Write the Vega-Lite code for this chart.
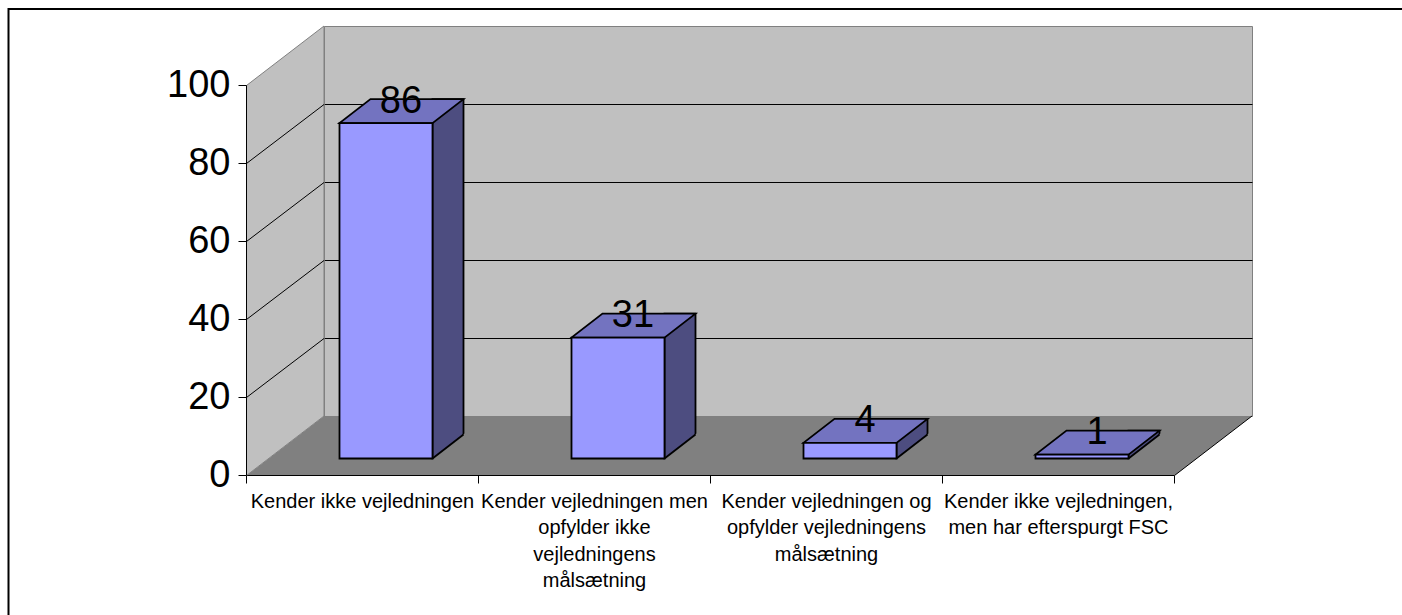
{
  "$schema": "https://vega.github.io/schema/vega-lite/v6.json",
  "width": 928,
  "height": 390,
  "autosize": {"type": "none"},
  "padding": {"left": 324, "top": 26, "right": 150, "bottom": 199},
  "background": "white",
  "view": {"fill": "#C0C0C0", "stroke": "#808080", "strokeWidth": 1},
  "config": {"font": "Liberation Sans", "axis": {"labelFont": "Liberation Sans"}},
  "data": {
    "values": [
      {"kategori": "Kender ikke vejledningen", "antal": 86},
      {"kategori": "Kender vejledningen men opfylder ikke vejledningens målsætning", "antal": 31},
      {"kategori": "Kender vejledningen og opfylder vejledningens målsætning", "antal": 4},
      {"kategori": "Kender ikke vejledningen, men har efterspurgt FSC", "antal": 1}
    ]
  },
  "layer": [
    {
      "layer": [
        {
          "data": {"values": [{}]},
          "mark": {"type": "point", "shape": "M -193.5,59.5 L 734.5,59.5 L 812,0 L -116,0 Z", "size": 4, "filled": true, "fill": "#808080", "strokeWidth": 0, "opacity": 1},
          "encoding": {
            "x": {
              "datum": "Kender ikke vejledningen", "type": "nominal",
              "scale": {"type": "band", "domain": ["Kender ikke vejledningen", "Kender vejledningen men opfylder ikke vejledningens målsætning", "Kender vejledningen og opfylder vejledningens målsætning", "Kender ikke vejledningen, men har efterspurgt FSC"], "paddingInner": 0, "paddingOuter": 0},
              "axis": {
                "orient": "bottom", "offset": 137, "translate": -77.5, "domain": false, "title": null, "labelAngle": 0,
                "tickBand": "extent", "tickSize": 8, "tickColor": "black", "tickWidth": 1,
                "labelFontSize": 20, "labelColor": "black", "labelPadding": 8, "labelLimit": 0, "labelLineHeight": 26.5, "labelBaseline": "top",
                "labelExpr": "datum.value == 'Kender vejledningen men opfylder ikke vejledningens målsætning' ? ['Kender vejledningen men', 'opfylder ikke', 'vejledningens', 'målsætning'] : datum.value == 'Kender vejledningen og opfylder vejledningens målsætning' ? ['Kender vejledningen og', 'opfylder vejledningens', 'målsætning'] : datum.value == 'Kender ikke vejledningen, men har efterspurgt FSC' ? ['Kender ikke vejledningen,', 'men har efterspurgt FSC'] : datum.label"
              }
            },
            "y": {
              "datum": 0, "type": "quantitative",
              "scale": {"domain": [0, 100], "nice": false},
              "axis": {"orient": "right", "values": [20, 40, 60, 80], "grid": true, "gridColor": "black", "gridOpacity": 1, "gridWidth": 1, "labels": false, "ticks": false, "domain": false, "title": null}
            }
          }
        },
        {
          "data": {"values": [{}]},
          "mark": {"type": "point", "shape": "M -193.5,59.5 L 734.5,59.5 L 812,0", "size": 4, "filled": false, "color": "black", "strokeWidth": 1, "opacity": 1},
          "encoding": {
            "x": {"datum": "Kender ikke vejledningen", "type": "nominal"},
            "y": {"datum": 0, "type": "quantitative"}
          }
        },
        {
          "data": {"values": [{}]},
          "mark": {"type": "point", "shape": "M -193.5,-330.5 L -116,-390 L -116,0 L -193.5,59.5 Z", "size": 4, "filled": true, "fill": "#C0C0C0", "stroke": "#808080", "strokeWidth": 1, "opacity": 1},
          "encoding": {
            "x": {"datum": "Kender ikke vejledningen", "type": "nominal"},
            "y": {"datum": 0, "type": "quantitative"}
          }
        },
        {
          "data": {"values": [{}]},
          "mark": {"type": "point", "shape": "M -193.5,-18.5 L -116,-77.5 M -193.5,-96.5 L -116,-155.5 M -193.5,-174.5 L -116,-233.5 M -193.5,-252.5 L -116,-311.5", "size": 4, "filled": false, "color": "black", "strokeWidth": 1, "opacity": 1},
          "encoding": {
            "x": {"datum": "Kender ikke vejledningen", "type": "nominal"},
            "y": {"datum": 0, "type": "quantitative"}
          }
        },
        {
          "data": {"values": [{}]},
          "mark": {"type": "point", "shape": "M 962,-407 L -431.5,-407 L -431.5,199", "size": 4, "filled": false, "color": "black", "strokeWidth": 2, "opacity": 1},
          "encoding": {
            "x": {"datum": "Kender ikke vejledningen", "type": "nominal"},
            "y": {"datum": 0, "type": "quantitative"}
          }
        },
        {
          "mark": {"type": "bar", "width": 31, "xOffset": 8, "yOffset": 18.5, "y2Offset": 42.5, "fill": "#4D4D80", "stroke": "black", "strokeWidth": 1.8},
          "encoding": {
            "x": {"field": "kategori", "type": "nominal"},
            "y": {"field": "antal", "type": "quantitative"},
            "y2": {"datum": 0}
          }
        },
        {
          "mark": {"type": "point", "shape": "M -7.5,42.5 L 25,17.34 L 25,44.5 L -7.5,44.5 Z", "size": 4, "filled": true, "fill": "#808080", "strokeWidth": 0, "opacity": 1},
          "encoding": {
            "x": {"field": "kategori", "type": "nominal"},
            "y": {"datum": 0, "type": "quantitative"}
          }
        },
        {
          "mark": {"type": "point", "shape": "M -7.5,42.5 L 23.5,18.5", "size": 4, "filled": false, "color": "black", "strokeWidth": 1.8, "opacity": 1},
          "encoding": {
            "x": {"field": "kategori", "type": "nominal"},
            "y": {"datum": 0, "type": "quantitative"}
          }
        },
        {
          "mark": {"type": "point", "shape": "M -100.5,42.5 L -7.5,42.5 L 23.5,18.5 L -69.5,18.5 Z", "size": 4, "filled": true, "fill": "#7373C0", "stroke": "black", "strokeWidth": 1.8, "opacity": 1},
          "encoding": {
            "x": {"field": "kategori", "type": "nominal"},
            "y": {"field": "antal", "type": "quantitative"}
          }
        },
        {
          "mark": {"type": "text", "fontSize": 38, "font": "Liberation Sans", "color": "black", "align": "center", "baseline": "alphabetic", "dx": -39, "dy": 32},
          "encoding": {
            "x": {"field": "kategori", "type": "nominal"},
            "y": {"field": "antal", "type": "quantitative"},
            "text": {"field": "antal", "type": "quantitative"}
          }
        }
      ]
    },
    {
      "mark": {"type": "bar", "width": 93, "xOffset": -54, "yOffset": -16.5, "y2Offset": -16.5, "fill": "#9999FF", "stroke": "black", "strokeWidth": 1.8},
      "encoding": {
        "x": {"field": "kategori", "type": "nominal"},
        "y": {
          "field": "antal", "type": "quantitative",
          "scale": {"domain": [0, 100], "range": [449, 59], "nice": false, "zero": false},
          "axis": {"orient": "left", "offset": 78, "values": [0, 20, 40, 60, 80, 100], "title": null, "grid": false, "zindex": 1,
                   "labelFontSize": 38, "labelColor": "black", "labelPadding": 8, "tickSize": 8, "tickColor": "black", "tickWidth": 1, "domainColor": "black", "domainWidth": 1}
        },
        "y2": {"datum": 0}
      }
    }
  ],
  "resolve": {"scale": {"y": "independent"}}
}
